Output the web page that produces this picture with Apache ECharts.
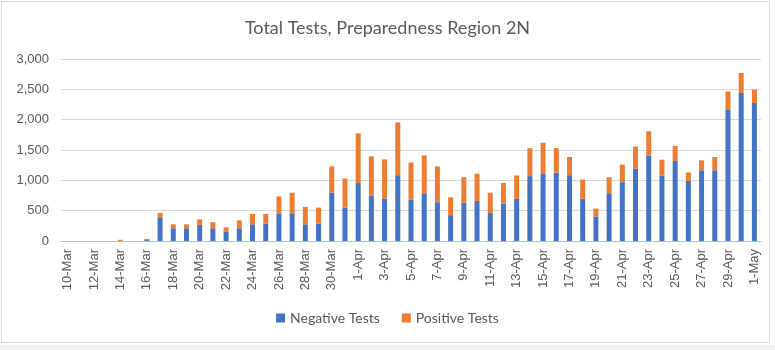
<!DOCTYPE html>
<html>
<head>
<meta charset="utf-8">
<script src="https://cdn.jsdelivr.net/npm/echarts@6/dist/echarts.min.js"></script>
<style>
  html, body { margin: 0; padding: 0; background: #fff; }
  #chart { width: 775px; height: 350px; }
</style>
</head>
<body>
<div id="chart"></div>
<script>
const dates = [
  "10-Mar", "11-Mar", "12-Mar", "13-Mar", "14-Mar", "15-Mar", "16-Mar", "17-Mar",
  "18-Mar", "19-Mar", "20-Mar", "21-Mar", "22-Mar", "23-Mar", "24-Mar", "25-Mar",
  "26-Mar", "27-Mar", "28-Mar", "29-Mar", "30-Mar", "31-Mar",
  "1-Apr", "2-Apr", "3-Apr", "4-Apr", "5-Apr", "6-Apr", "7-Apr", "8-Apr",
  "9-Apr", "10-Apr", "11-Apr", "12-Apr", "13-Apr", "14-Apr", "15-Apr", "16-Apr",
  "17-Apr", "18-Apr", "19-Apr", "20-Apr", "21-Apr", "22-Apr", "23-Apr", "24-Apr",
  "25-Apr", "26-Apr", "27-Apr", "28-Apr", "29-Apr", "30-Apr", "1-May"
];
const negativeTests = [
  0, 0, 0, 0, 3, 0, 15, 380,
  210, 210, 265, 210, 150, 210, 275, 285,
  445, 445, 275, 285, 800, 550,
  955, 745, 700, 1085, 680, 775, 640, 425,
  630, 660, 460, 615, 695, 1070, 1115, 1130,
  1085, 695, 405, 775, 970, 1190, 1410, 1080,
  1320, 990, 1165, 1165, 2170, 2440, 2275
];
const positiveTests = [
  0, 0, 0, 0, 17, 0, 20, 85,
  65, 65, 90, 100, 75, 130, 170, 160,
  290, 350, 285, 265, 430, 480,
  820, 650, 645, 870, 615, 635, 590, 295,
  420, 450, 335, 340, 385, 460, 505, 400,
  300, 320, 130, 275, 290, 365, 400, 260,
  245, 140, 165, 220, 295, 330, 220
];
const yTicks = [0, 500, 1000, 1500, 2000, 2500, 3000];

const chart = echarts.init(document.getElementById("chart"));
chart.setOption({
  animation: false,
  textStyle: { fontFamily: "Liberation Sans" },
  graphic: [
    {
      type: "rect",
      shape: { x: 1.5, y: 1.5, width: 768, height: 341 },
      style: { fill: "none", stroke: "#d9d9d9", lineWidth: 1 },
      silent: true
    },
    {
      type: "rect",
      shape: { x: 0, y: 345, width: 775, height: 5 },
      style: { fill: "#f0f0f0" },
      silent: true
    }
  ],
  title: {
    text: "Total Tests, Preparedness Region 2N",
    left: "center",
    top: 14,
    textStyle: { fontFamily: "Lato", fontSize: 18, fontWeight: "normal", color: "#595959" }
  },
  legend: {
    bottom: 20,
    left: "center",
    itemWidth: 9,
    itemHeight: 9,
    itemGap: 22,
    icon: "rect",
    textStyle: { fontFamily: "Lato", fontSize: 14, color: "#595959" },
    data: ["Negative Tests", "Positive Tests"]
  },
  grid: { left: 61, right: 14, top: 59, bottom: 109, containLabel: false },
  xAxis: {
    type: "category",
    data: dates,
    axisLine: { lineStyle: { color: "#bfbfbf" } },
    axisTick: { interval: 1, length: 5, lineStyle: { color: "#bfbfbf" } },
    axisLabel: { interval: 1, rotate: 90, fontSize: 13, color: "#595959", margin: 8 }
  },
  yAxis: {
    type: "value",
    min: yTicks[0],
    max: yTicks[yTicks.length - 1],
    interval: 500,
    axisLine: { show: false },
    axisTick: { show: false },
    splitLine: { lineStyle: { color: "#d9d9d9" } },
    axisLabel: {
      fontSize: 13,
      color: "#595959",
      margin: 12,
      formatter: (v) => v.toLocaleString("en-US")
    }
  },
  series: [
    {
      name: "Negative Tests",
      type: "bar",
      stack: "tests",
      barWidth: 5,
      itemStyle: { color: "#4472c4" },
      data: negativeTests
    },
    {
      name: "Positive Tests",
      type: "bar",
      stack: "tests",
      barWidth: 5,
      itemStyle: { color: "#ed7d31" },
      data: positiveTests
    }
  ]
});
</script>
</body>
</html>
